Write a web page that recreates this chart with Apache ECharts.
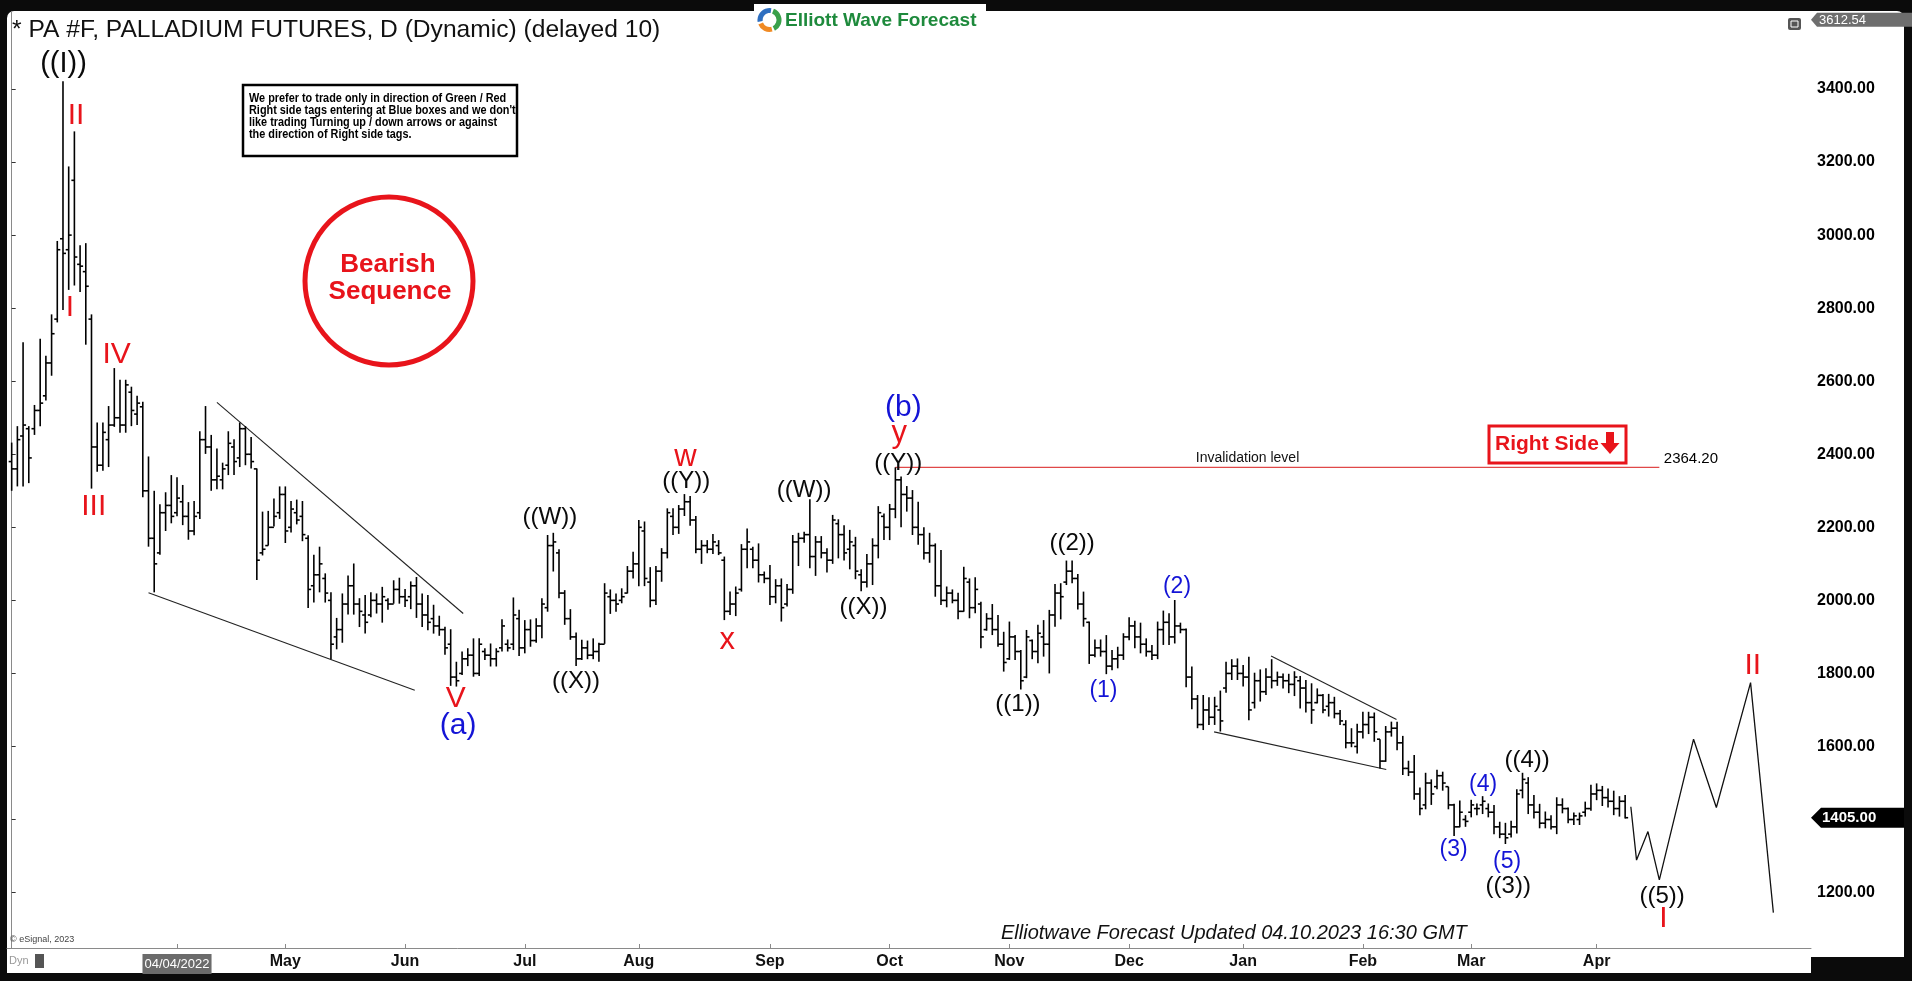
<!DOCTYPE html>
<html><head><meta charset="utf-8">
<script src="https://cdn.jsdelivr.net/npm/echarts@6/dist/echarts.min.js"></script>
<style>html,body{margin:0;padding:0;background:#0b0b0b;overflow:hidden}#c{width:1912px;height:981px}</style>
</head><body><div id="c"></div>
<script>
// ---- DATA (daily OHLC, bar index 0 = first visible bar) ----
const O = [2380,2360,2450,2470,2470,2520,2560,2650,2770,2990,
2960,3150,2920,2900,2770,2420,2370,2440,2480,2500,
2480,2570,2510,2530,2300,2170,2130,2240,2260,2240,
2270,2230,2190,2240,2440,2420,2330,2330,2370,2420,
2390,2470,2400,2360,2130,2150,2200,2240,2290,2200,
2240,2230,2170,2040,2070,2060,2000,1900,1920,1990,
2040,1990,1960,1960,2000,1990,2000,1990,2030,2010,
2010,2040,1990,1960,1950,1930,1920,1880,1790,1800,
1840,1850,1800,1860,1850,1840,1870,1880,1880,1950,
1870,1920,1890,1930,1980,2150,2130,2020,1950,1900,
1840,1870,1850,1860,1880,2010,2000,2000,2020,2080,
2100,2190,2050,2000,2080,2130,2230,2200,2250,2270,
2220,2140,2150,2140,2150,2110,1970,1990,2030,2140,
2140,2110,2070,2060,2010,2040,1990,2030,2160,2170,
2180,2120,2160,2130,2110,2210,2180,2140,2150,2070,
2050,2100,2150,2230,2200,2250,2330,2290,2280,2200,
2180,2130,2150,2040,2000,2020,2000,1970,2050,1980,
1990,1920,1950,1920,1880,1840,1900,1860,1790,1890,
1860,1900,1880,1960,2020,2050,2080,2060,1990,1940,
1850,1870,1860,1820,1840,1850,1900,1930,1900,1880,
1860,1850,1920,1940,1900,1930,1920,1790,1730,1660,
1700,1680,1700,1760,1800,1820,1800,1790,1720,1780,
1750,1790,1780,1790,1780,1770,1780,1760,1720,1720,
1740,1710,1720,1690,1660,1610,1600,1640,1660,1680,
1620,1560,1640,1650,1610,1540,1530,1470,1440,1500,
1490,1520,1490,1440,1380,1400,1420,1430,1440,1430,
1420,1380,1360,1360,1380,1480,1500,1440,1420,1390,
1400,1380,1440,1430,1400,1400,1420,1430,1470,1480,
1460,1450,1430,1450];
const Hi = [2432,2477,2707,2477,2535,2716,2670,2783,2984,3421,
3188,3284,2972,2978,2783,2487,2487,2532,2636,2604,
2604,2585,2560,2544,2394,2300,2263,2296,2343,2337,
2316,2269,2272,2463,2532,2453,2416,2377,2463,2441,
2487,2477,2447,2361,2243,2245,2279,2312,2312,2272,
2276,2272,2178,2125,2147,2074,2022,1952,2019,2068,
2101,2006,2015,2022,2019,2037,2006,2055,2062,2031,
2052,2064,2019,2015,1988,1958,1928,1921,1832,1860,
1869,1896,1896,1869,1882,1869,1948,1893,2008,1974,
1946,1948,1951,2006,2179,2185,2140,2028,1976,1912,
1892,1890,1896,1884,2047,2030,2019,2033,2094,2133,
2220,2216,2091,2094,2143,2252,2252,2261,2291,2286,
2231,2165,2165,2182,2165,2120,2024,2038,2154,2197,
2147,2156,2079,2097,2058,2060,2045,2179,2185,2188,
2277,2176,2176,2143,2234,2222,2206,2193,2174,2085,
2127,2170,2258,2238,2264,2364.2,2339,2313,2302,2270,
2200,2185,2156,2138,2038,2030,2021,2092,2060,2063,
1996,1965,1990,1960,1914,1942,1905,1864,1919,1893,
1933,1946,1974,2045,2047,2109,2109,2072,2024,1942,
1893,1893,1905,1864,1873,1910,1954,1944,1939,1896,
1878,1942,1972,1965,2001,1939,1923,1819,1741,1741,
1735,1736,1753,1832,1839,1841,1823,1846,1802,1811,
1814,1839,1805,1800,1799,1806,1793,1782,1773,1759,
1744,1744,1736,1700,1672,1650,1662,1695,1695,1693,
1620,1656,1668,1668,1629,1561,1577,1488,1528,1510,
1536,1531,1490,1443,1452,1412,1454,1444,1464,1444,
1440,1394,1391,1397,1483,1528,1516,1467,1443,1422,
1412,1461,1458,1433,1419,1419,1449,1495,1499,1492,
1485,1479,1464,1467];
const Lo = [2300,2312,2312,2321,2453,2477,2547,2615,2761,2795,
2850,2862,2844,2700,2306,2352,2355,2365,2475,2459,
2459,2477,2480,2282,2147,2022,2125,2190,2211,2230,
2206,2166,2178,2223,2401,2300,2304,2304,2343,2343,
2365,2370,2361,2056,2123,2150,2202,2223,2157,2186,
2208,2162,1979,1994,2022,1994,1839,1866,1884,1961,
1961,1927,1909,1954,1964,1939,1974,1991,1991,1982,
1976,1952,1927,1918,1909,1903,1851,1766,1764,1796,
1820,1791,1793,1837,1819,1819,1860,1860,1864,1848,
1855,1873,1884,1896,1969,2079,2006,1933,1892,1820,
1837,1839,1839,1832,1881,1963,1969,1992,2019,2060,
2039,2039,1981,1987,2051,2115,2179,2182,2231,2204,
2129,2100,2129,2127,2124,1946,1960,1957,2024,2088,
2088,2049,2047,1987,1992,1942,1983,2018,2094,2158,
2088,2067,2115,2076,2100,2115,2109,2085,2058,2025,
2035,2042,2115,2165,2165,2225,2200,2243,2179,2152,
2112,2103,2010,1987,1981,1992,1948,1969,1951,1965,
1869,1917,1905,1873,1805,1837,1837,1756,1787,1839,
1828,1846,1800,1928,1948,2042,2047,1975,1928,1826,
1844,1846,1798,1809,1814,1837,1891,1869,1855,1846,
1837,1839,1878,1878,1882,1910,1762,1702,1650,1645,
1659,1659,1641,1747,1782,1782,1764,1672,1704,1723,
1741,1759,1766,1759,1746,1738,1704,1693,1662,1718,
1691,1682,1677,1659,1595,1598,1581,1622,1634,1613,
1540,1558,1627,1590,1522,1519,1454,1412,1428,1440,
1483,1479,1428,1355,1379,1380,1406,1412,1415,1406,
1360,1349,1333,1351,1362,1458,1415,1403,1376,1376,
1373,1360,1417,1390,1385,1385,1408,1424,1453,1437,
1433,1412,1408,1403];
const Cl = [2360,2440,2480,2390,2520,2540,2650,2730,2960,2950,
3000,2940,2915,2860,2420,2370,2460,2480,2500,2480,
2590,2520,2540,2300,2170,2100,2240,2260,2230,2280,
2230,2190,2230,2440,2420,2330,2340,2360,2430,2380,
2470,2400,2380,2110,2140,2200,2230,2290,2190,2250,
2220,2180,2030,2070,2100,2020,1880,1920,1990,2040,
1990,1970,1940,2000,1990,2010,1990,2030,2010,2000,
2040,1990,1960,1940,1930,1920,1870,1790,1780,1840,
1850,1800,1880,1850,1840,1860,1930,1870,1960,1870,
1920,1890,1930,1990,2150,2160,2020,1950,1900,1840,
1870,1850,1860,1880,2020,2000,1990,2010,2080,2100,
2200,2060,2000,2080,2130,2240,2200,2250,2270,2220,
2140,2150,2140,2160,2130,1970,1990,2020,2140,2160,
2110,2070,2060,2010,2040,1980,2030,2160,2170,2180,
2120,2160,2130,2110,2220,2180,2130,2160,2080,2050,
2100,2150,2240,2200,2250,2330,2290,2280,2200,2180,
2130,2150,2040,2000,2020,2000,1970,2060,1980,2030,
1900,1950,1920,1880,1830,1900,1860,1780,1900,1860,
1910,1880,1960,2020,2010,2080,2060,1990,1950,1850,
1870,1860,1820,1840,1850,1900,1930,1900,1880,1860,
1850,1920,1940,1900,1930,1920,1790,1730,1660,1700,
1680,1710,1670,1800,1820,1800,1790,1700,1780,1750,
1790,1780,1790,1780,1770,1790,1760,1720,1700,1740,
1700,1720,1690,1670,1610,1610,1640,1660,1680,1640,
1560,1640,1650,1610,1540,1530,1470,1430,1500,1470,
1520,1500,1440,1380,1420,1395,1440,1430,1450,1420,
1380,1360,1350,1380,1470,1510,1440,1420,1390,1400,
1380,1440,1430,1400,1410,1410,1430,1470,1480,1460,
1450,1430,1450,1405];

const monthIdx = [29,48,69,90,110,133,154,175,196,216,237,256,278];
const monthLabels = ['04/04/2022','May','Jun','Jul','Aug','Sep','Oct','Nov','Dec','Jan','Feb','Mar','Apr'];
const yTicks = [1200,1400,1600,1800,2000,2200,2400,2600,2800,3000,3200,3400];
const lastPrice = 1405.00;
const axisTop = 3612.54;
const invalidation = 2364.20;

// projected path (bar index, price)
const projX = [284,285,287,289,295,299,305,309];
const projY = [1435,1289,1367,1235,1620,1433,1775,1145];

// trend lines [x1,y1,x2,y2]
const trendLines = [
  [36.0,2542,79.2,1964],
  [24.0,2021,70.7,1754],
  [220.9,1848,242.9,1674],
  [210.9,1640,241.1,1537]
];
const invalidX = [155,289];

// wave labels: text, bar index, price, colour, size
const waveText  = ['((I))','II','I','IV','III','V','(a)','((W))','((X))','w','((Y))','x','((W))','((X))','(b)','y','((Y))','((1))','((2))','(1)','(2)','(3)','(4)','(5)','((3))','((4))','((5))','I','II'];
const waveX     = [9.1,11.3,10.2,18.4,14.4,77.9,78.3,94.4,99.0,118.2,118.3,125.5,139.0,149.4,156.4,155.7,155.5,176.5,186.0,191.5,204.4,252.9,258.1,262.3,262.5,265.8,289.5,289.7,305.4];
const waveY     = [3468,3326,2800,2672,2256,1730,1656,2228,1777,2391,2327,1889,2300,1982,2527,2458,2376,1716,2156,1752,2038,1318,1495,1285,1216,1563,1191,1128,1820];
const waveColor = ['k','r','r','r','r','r','b','k','k','r','k','r','k','k','b','r','k','k','k','b','b','b','b','b','k','k','k','r','r'];
const waveSize  = [29,30,30,30,30,30,30,24,24,31,24,31,24,24,30,31,24,24,24,23,23,23,23,23,24,24,24,30,30];

const COLORS = {k:'#0a0a0a', r:'#e8141b', b:'#1414d6'};
const FONT = '"Liberation Sans", Arial, sans-serif';

const W = 1912, H = 981;
const GRID = {left:7, right:101, top:11.37, bottom:33};
const X_MIN = -0.82, X_MAX = 315.6;
const Y_MIN = 1048.3, Y_MAX = axisTop;
function yPix(v){ const h = H - GRID.top - GRID.bottom; return GRID.top + (Y_MAX - v)/(Y_MAX - Y_MIN)*h; }

const ohlc = O.map((o,i)=>[i,o,Hi[i],Lo[i],Cl[i]]);

const series = [];
series.push({
  type:'custom', z:5, clip:false,
  data: ohlc,
  encode:{x:0, y:[2,3]},
  renderItem: function(params, api){
    const x = api.value(0);
    const pH = api.coord([x, api.value(2)]);
    const pL = api.coord([x, api.value(3)]);
    const pO = api.coord([x, api.value(1)]);
    const pC = api.coord([x, api.value(4)]);
    const px = pH[0];
    const st = {stroke:'#000', lineWidth:1.6};
    return {type:'group', children:[
      {type:'line', shape:{x1:px,y1:pH[1],x2:px,y2:pL[1]}, style:st},
      {type:'line', shape:{x1:px-3,y1:pO[1],x2:px,y2:pO[1]}, style:st},
      {type:'line', shape:{x1:px,y1:pC[1],x2:px+3,y2:pC[1]}, style:st}
    ]};
  }
});
series.push({type:'line', z:4, data: projX.map((x,i)=>[x,projY[i]]), symbol:'none', lineStyle:{color:'#111', width:1.3}});
trendLines.forEach(t=>{
  series.push({type:'line', z:4, data:[[t[0],t[1]],[t[2],t[3]]], symbol:'none', lineStyle:{color:'#222', width:1.1}});
});
series.push({type:'line', z:4, data:[[invalidX[0],invalidation],[invalidX[1],invalidation]], symbol:'none', lineStyle:{color:'#e04848', width:1.2}});
series.push({
  type:'scatter', z:10, symbolSize:1, itemStyle:{color:'rgba(0,0,0,0)', opacity:1},
  data: waveText.map((t,i)=>({value:[waveX[i],waveY[i]], label:{show:true, position:'inside', formatter:t, color:COLORS[waveColor[i]], fontSize:waveSize[i], fontFamily:FONT, opacity:1, textBorderWidth:0}}))
});
series.push({
  type:'scatter', z:10, symbolSize:1, itemStyle:{color:'rgba(0,0,0,0)', opacity:1},
  data:[
    {value:[207.6,2390], label:{show:true, position:'right', distance:0, formatter:'Invalidation level', color:'#111', fontSize:14, fontFamily:FONT, opacity:1}},
    {value:[289.7,2387], label:{show:true, position:'right', distance:0, formatter:invalidation.toFixed(2), color:'#000', fontSize:15, fontFamily:FONT, opacity:1}}
  ]
});

const yLast = yPix(lastPrice);
const discFont = 'bold 12.5px '+FONT;
const discLines = ['We prefer to trade only in direction of Green / Red',"Right side tags entering at Blue boxes and we don't",'like trading Turning up / down arrows or against','the direction of Right side tags.'];
const graphics = [
  // backgrounds
  {type:'rect', z:-100, shape:{x:7,y:11,width:1897,height:946,r:[7,7,0,0]}, style:{fill:'#ffffff'}},
  {type:'rect', z:-100, shape:{x:7,y:940,width:1804,height:33}, style:{fill:'#ffffff'}},
  // title
  {type:'text', z:100, x:12, y:30, style:{text:'* PA #F, PALLADIUM FUTURES, D (Dynamic) (delayed 10)', font:'24.6px '+FONT, fill:'#111', textVerticalAlign:'middle', verticalAlign:'middle'}},
  // logo
  {type:'rect', z:100, shape:{x:754,y:4,width:232,height:30}, style:{fill:'#fff'}},
  {type:'arc', z:101, shape:{cx:769.5,cy:20,r:9.5,startAngle:Math.PI*0.95,endAngle:Math.PI*1.55}, style:{stroke:'#2f6fc0',lineWidth:5,fill:null}},
  {type:'arc', z:101, shape:{cx:769.5,cy:20,r:9.5,startAngle:Math.PI*1.62,endAngle:Math.PI*2.35}, style:{stroke:'#3aa04a',lineWidth:5,fill:null}},
  {type:'arc', z:101, shape:{cx:769.5,cy:20,r:9.5,startAngle:Math.PI*0.42,endAngle:Math.PI*0.88}, style:{stroke:'#f08a24',lineWidth:5,fill:null}},
  {type:'text', z:101, x:785, y:21, style:{text:'Elliott Wave Forecast', font:'bold 19px '+FONT, fill:'#1e8a3c', textVerticalAlign:'middle', verticalAlign:'middle'}},
  // disclaimer box
  {type:'rect', z:100, shape:{x:243,y:85,width:274,height:71}, style:{fill:'#fff', stroke:'#000', lineWidth:2.5}},
  // bearish sequence
  {type:'circle', z:100, shape:{cx:389,cy:281,r:84}, style:{fill:'#fff', stroke:'#e8141b', lineWidth:5}},
  {type:'text', z:101, x:388, y:265, style:{text:'Bearish', font:'bold 26px '+FONT, fill:'#e8141b', textAlign:'center', align:'center', textVerticalAlign:'middle', verticalAlign:'middle'}},
  {type:'text', z:101, x:390, y:292, style:{text:'Sequence', font:'bold 26px '+FONT, fill:'#e8141b', textAlign:'center', align:'center', textVerticalAlign:'middle', verticalAlign:'middle'}},
  // right side box
  {type:'rect', z:100, shape:{x:1489,y:426,width:137,height:37}, style:{fill:'#fff', stroke:'#e8141b', lineWidth:3}},
  {type:'text', z:101, x:1495, y:444, style:{text:'Right Side', font:'bold 21px '+FONT, fill:'#e8141b', textVerticalAlign:'middle', verticalAlign:'middle'}},
  {type:'polygon', z:101, shape:{points:[[1606,432],[1614,432],[1614,443],[1619.5,443],[1610,454],[1600.5,443],[1606,443]]}, style:{fill:'#e8141b'}},
  // update text
  {type:'text', z:100, x:1001, y:933, style:{text:'Elliotwave Forecast Updated 04.10.2023 16:30 GMT', font:'italic 20px '+FONT, fill:'#111', textVerticalAlign:'middle', verticalAlign:'middle'}},
  // copyright & Dyn
  {type:'text', z:100, x:10, y:940, style:{text:'\u00a9 eSignal, 2023', font:'9px '+FONT, fill:'#444', textVerticalAlign:'middle', verticalAlign:'middle'}},
  {type:'text', z:100, x:9, y:961, style:{text:'Dyn', font:'11px '+FONT, fill:'#999', textVerticalAlign:'middle', verticalAlign:'middle'}},
  {type:'rect', z:100, shape:{x:35,y:954,width:9,height:14}, style:{fill:'#555'}},
  // top right icon
  {type:'rect', z:100, shape:{x:1788,y:18,width:13,height:12,r:2}, style:{fill:'#555'}},
  {type:'rect', z:101, shape:{x:1791,y:21,width:7,height:6}, style:{fill:'none', stroke:'#fff', lineWidth:1}},
  // top axis tag
  {type:'polygon', z:100, shape:{points:[[1811,19.7],[1817,12.7],[1912,12.7],[1912,26.7],[1817,26.7]]}, style:{fill:'#6e6e6e'}},
  {type:'text', z:101, x:1819, y:20, style:{text:axisTop.toFixed(2), font:'13px '+FONT, fill:'#fff', textVerticalAlign:'middle', verticalAlign:'middle'}},
  // last price tag
  {type:'polygon', z:100, shape:{points:[[1811,yLast],[1821,yLast-10],[1904,yLast-10],[1904,yLast+10],[1821,yLast+10]]}, style:{fill:'#000'}},
  {type:'text', z:101, x:1822, y:yLast, style:{text:lastPrice.toFixed(2), font:'bold 15px '+FONT, fill:'#fff', textVerticalAlign:'middle', verticalAlign:'middle'}}
];
const discY = [99, 111, 122.7, 134.3];
discLines.forEach((t,i)=>{
  graphics.push({type:'text', z:101, x:249, y:discY[i], scaleX:0.87, scaleY:1, style:{text:t, font:discFont, fill:'#000', textVerticalAlign:'middle', verticalAlign:'middle'}});
});

const chart = echarts.init(document.getElementById('c'), null, {renderer:'canvas', width:W, height:H});
chart.setOption({
  animation:false,
  backgroundColor:'transparent',
  grid:{left:GRID.left, right:GRID.right, top:GRID.top, bottom:GRID.bottom, containLabel:false},
  xAxis:{
    type:'value', min:X_MIN, max:X_MAX, position:'bottom',
    axisLine:{show:true, lineStyle:{color:'#8a8a8a', width:1}},
    axisTick:{show:true, inside:true, length:4, customValues:monthIdx, lineStyle:{color:'#8a8a8a'}},
    axisLabel:{show:true, customValues:monthIdx, margin:6, fontSize:16, fontWeight:'bold', color:'#111', fontFamily:FONT,
      formatter:function(v){ const k = monthIdx.indexOf(Math.round(v)); if(k===0) return '{d|'+monthLabels[0]+'}'; return k>=0?monthLabels[k]:''; },
      rich:{d:{backgroundColor:'#6b6b6b', color:'#fff', fontSize:13, fontWeight:'normal', fontFamily:FONT, padding:[4,2,3,2]}}},
    splitLine:{show:false}
  },
  yAxis:{
    type:'value', min:Y_MIN, max:Y_MAX, position:'right',
    axisLine:{show:true, lineStyle:{color:'#8a8a8a', width:1}},
    axisTick:{show:true, length:4, customValues:yTicks, lineStyle:{color:'#333'}},
    axisLabel:{show:true, customValues:yTicks, margin:6, fontSize:16, fontWeight:'bold', color:'#000', fontFamily:FONT, formatter:function(v){return v.toFixed(2);}},
    splitLine:{show:false}
  },
  graphic: graphics,
  series: series
});
</script>
</body></html>
